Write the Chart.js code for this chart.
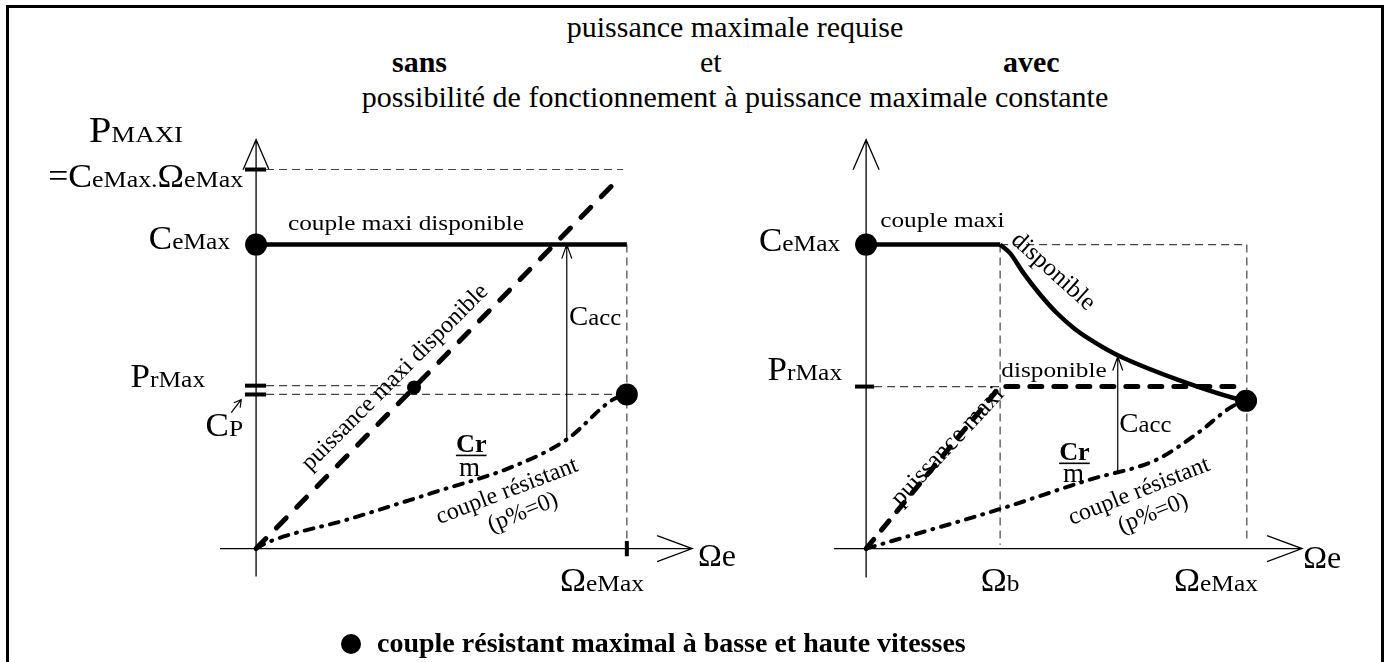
<!DOCTYPE html>
<html lang="fr">
<head>
<meta charset="utf-8">
<title>Puissance maximale requise</title>
<script src="https://cdn.jsdelivr.net/npm/chart.js@4.4.1/dist/chart.umd.min.js"></script>
<style>
  html, body { margin: 0; padding: 0; background: #fff; }
  body { width: 1390px; height: 662px; position: relative; overflow: hidden;
         font-family: "Liberation Serif", "Times New Roman", serif; color: #000; }
  .cadre { position: absolute; left: 6px; top: 5px; width: 1372px; height: 700px;
           border: 3px solid #000; border-bottom: none; }
  canvas { position: absolute; left: 0; top: 0; }
  .ligne { position: absolute; font-size: 30px; line-height: 30px; white-space: nowrap; }
  .centre { left: 0; width: 1470px; text-align: center; }
  .gras { font-weight: bold; }
  .legende { position: absolute; left: 377px; top: 629px; font-size: 28px; line-height: 28px;
             font-weight: bold; white-space: nowrap; }
  .pastille { position: absolute; left: 341px; top: 634px; width: 20px; height: 20px;
              border-radius: 50%; background: #000; }
</style>
</head>
<body>
<div class="cadre"></div>
<div class="ligne centre" style="top:12px">puissance maximale requise</div>
<div class="ligne gras" style="top:47px; left:392px">sans</div>
<div class="ligne" style="top:47px; left:700px">et</div>
<div class="ligne gras" style="top:47px; left:1003px">avec</div>
<div class="ligne centre" style="top:82px">possibilité de fonctionnement à puissance maximale constante</div>
<canvas id="gauche" width="1390" height="662"></canvas>
<canvas id="droite" width="1390" height="662"></canvas>
<div class="pastille"></div>
<div class="legende">couple résistant maximal à basse et haute vitesses</div>
<script>
// unités : Omega_eMax = 10, C_eMax = 10

// graphe de gauche (sans puissance constante)
const gOmegaMax = 10;
const gCoupleMax = 10;
const gPMaxi = 12.47;
const gPrMax = 5.36;
const gCp = 5.07;
const gCoupleMaxi = [[0, 10], [10, 10]];
const gPuissance = [[0, 0], [9.81, 12.2]];
const gResistant = [[0, 0], [0.3, 0.2], [2.45, 0.95], [4.77, 1.84], [6.93, 2.70], [8.38, 3.59], [9.62, 4.90], [10, 5.07]];
const gPointsMax = [[0, 10], [10, 5.07]];
const gPointPuissance = [[4.26, 5.3]];
const gCacc = [8.38, 3.59, 10];   // x, bas, haut

// graphe de droite (avec puissance constante)
const dOmegaB = 3.52;
const dOmegaMax = 10;
const dPrMax = 5.33;
const dCoupleMaxi = [[0, 10], [3.52, 10]];
const dHyperbole = [[3.52, 10], [3.78, 9.72], [4.13, 9.07], [4.57, 8.36], [5.01, 7.75], [5.45, 7.26],
                    [5.88, 6.88], [6.32, 6.55], [6.76, 6.27], [8.18, 5.56], [9.82, 4.90], [9.98, 4.86]];
const dPuissance = [[0, 0], [3.52, 5.33], [9.8, 5.33]];
const dResistant = [[0, 0], [3.46, 1.28], [5.88, 2.27], [7.64, 2.93], [8.73, 3.82], [9.61, 4.67], [9.98, 4.86]];
const dPointsMax = [[0, 10], [9.98, 4.86]];
const dCacc = [6.61, 2.53, 6.32];

const pts = a => a.map(([x, y]) => ({ x, y }));
const fmt = (taille, gras) => (gras ? 'bold ' : '') + taille + 'px "Liberation Serif", "Times New Roman", serif';

function texteRiche(ctx, x, y, morceaux, align, sx) {
  sx = sx || 1.06;
  let w = 0;
  for (const m of morceaux) { ctx.font = fmt(m[1], m[2]); w += ctx.measureText(m[0]).width; }
  let x0 = x;
  if (align === 'right') x0 = x - w * sx;
  else if (align === 'center') x0 = x - w * sx / 2;
  ctx.save();
  ctx.translate(x0, y);
  ctx.scale(sx, 1);
  ctx.fillStyle = '#000';
  ctx.textAlign = 'left';
  ctx.textBaseline = 'alphabetic';
  let cx = 0;
  for (const m of morceaux) {
    ctx.font = fmt(m[1], m[2]);
    ctx.fillText(m[0], cx, 0);
    const mw = ctx.measureText(m[0]).width;
    if (m[3]) ctx.fillRect(cx, 3, mw, 1.6);   // souligné
    cx += mw;
  }
  ctx.restore();
}

function texteIncline(ctx, x, y, angle, texte, taille) {
  ctx.save();
  ctx.translate(x, y);
  ctx.rotate(angle * Math.PI / 180);
  ctx.font = fmt(taille);
  ctx.fillStyle = '#000';
  ctx.textAlign = 'center';
  ctx.textBaseline = 'middle';
  ctx.fillText(texte, 0, 0);
  ctx.restore();
}

function fleche(ctx, x1, y1, x2, y2, long, larg) {
  const a = Math.atan2(y2 - y1, x2 - x1);
  const bx = x2 - long * Math.cos(a), by = y2 - long * Math.sin(a);
  const nx = -Math.sin(a) * larg, ny = Math.cos(a) * larg;
  ctx.beginPath();
  ctx.moveTo(x1, y1); ctx.lineTo(x2, y2);
  ctx.moveTo(bx + nx, by + ny); ctx.lineTo(x2, y2); ctx.lineTo(bx - nx, by - ny);
  ctx.stroke();
}

// plugin : axes fléchés, flèches Cacc et textes
function decor(cfg) {
  return {
    id: 'decor',
    beforeDatasetsDraw(chart) {
      const { ctx, scales: { x, y } } = chart;
      ctx.save();
      ctx.strokeStyle = '#000';
      ctx.lineWidth = 1.3;
      fleche(ctx, x.getPixelForValue(0), y.getPixelForValue(cfg.axeY[0]),
                  x.getPixelForValue(0), y.getPixelForValue(cfg.axeY[1]), 30, 13);
      fleche(ctx, x.getPixelForValue(cfg.axeX[0]), y.getPixelForValue(0),
                  x.getPixelForValue(cfg.axeX[1]), y.getPixelForValue(0), 35, 13);
      ctx.restore();
    },
    afterDatasetsDraw(chart) {
      const { ctx, scales: { x, y } } = chart;
      ctx.save();
      ctx.strokeStyle = '#000';
      ctx.lineWidth = 1.2;
      const [cx, bas, haut] = cfg.cacc;
      fleche(ctx, x.getPixelForValue(cx), y.getPixelForValue(bas),
                  x.getPixelForValue(cx), y.getPixelForValue(haut), 14, 5);
      (cfg.petitesFleches || []).forEach(f => {
        fleche(ctx, x.getPixelForValue(f[0]), y.getPixelForValue(f[1]),
                    x.getPixelForValue(f[2]), y.getPixelForValue(f[3]), 7, 4);
      });
      ctx.restore();
      cfg.etiquettes.forEach(e => texteRiche(ctx, x.getPixelForValue(e.x), y.getPixelForValue(e.y), e.m, e.align, e.sx));
      cfg.inclines.forEach(e => texteIncline(ctx, x.getPixelForValue(e.x), y.getPixelForValue(e.y), e.a, e.t, e.taille));
    }
  };
}

const plein  = { borderWidth: 4.5, order: 1 };
const tirets = { borderWidth: 5, borderDash: [14, 15], borderCapStyle: 'round', order: 1 };
const tirets2 = { borderWidth: 5, borderDash: [12, 12], borderCapStyle: 'round', order: 1 };
const mixte  = { borderWidth: 4, borderDash: [9, 8, 1, 8], borderCapStyle: 'round', order: 1, cubicInterpolationMode: 'monotone' };
const fin    = { borderWidth: 1.2, borderDash: [8, 5], borderColor: '#444', order: 2 };
const courbe = { borderWidth: 4.5, order: 1, cubicInterpolationMode: 'monotone' };

function trait(data, style) {
  return Object.assign({ data: pts(data), showLine: true, pointRadius: 0, borderColor: '#000', fill: false, clip: false }, style);
}
function points(data, rayon) {
  return { data: pts(data), showLine: false, pointRadius: rayon, pointBackgroundColor: '#000',
           pointBorderWidth: 0, order: 0, clip: false };
}

function options(padding, xmin, xmax) {
  return {
    responsive: false,
    animation: false,
    events: [],
    layout: { padding },
    scales: {
      x: { type: 'linear', min: xmin, max: xmax, display: false },
      y: { type: 'linear', min: -1, max: 14, display: false }
    },
    plugins: { legend: { display: false }, tooltip: { enabled: false } }
  };
}

new Chart(document.getElementById('gauche'), {
  type: 'scatter',
  data: {
    datasets: [
      points(gPointsMax, 11),
      points(gPointPuissance, 7),
      trait(gCoupleMaxi, plein),
      trait(gPuissance, tirets),
      trait(gResistant, mixte),
      trait([[-0.3, gPMaxi], [0.27, gPMaxi]], { borderWidth: 4, order: 1 }),
      trait([[-0.3, gPrMax], [0.27, gPrMax]], { borderWidth: 4, order: 1 }),
      trait([[-0.3, gCp], [0.27, gCp]], { borderWidth: 4, order: 1 }),
      trait([[gOmegaMax, 0.25], [gOmegaMax, -0.25]], { borderWidth: 4, order: 1 }),
      trait([[0.27, gPMaxi], [9.9, gPMaxi]], fin),
      trait([[0.27, gPrMax], [3.9, gPrMax]], fin),
      trait([[0.27, gCp], [9.95, gCp]], fin),
      trait([[gOmegaMax, gCoupleMax], [gOmegaMax, 0.3]], fin)
    ]
  },
  options: options({ left: 219, right: 689, top: 123, bottom: 83 }, -1, 12),
  plugins: [decor({
    axeY: [-0.92, 13.45],
    axeX: [-0.97, 11.76],
    cacc: gCacc,
    petitesFleches: [[-0.67, 4.47, -0.40, 4.9]],
    etiquettes: [
      { x: -1.97, y: 13.36, align: 'right', m: [['P', 36], ['MAXI', 24]], sx: 1.12 },
      { x: -0.35, y: 11.88, align: 'right', m: [['=C', 33], ['eMax.', 24], ['Ω', 33], ['eMax', 24]], sx: 1.08 },
      { x: -0.70, y: 9.84, align: 'right', m: [['C', 33], ['eMax', 24]] },
      { x: -1.375, y: 5.33, align: 'right', m: [['P', 33], ['rMax', 24]] },
      { x: -0.35, y: 3.72, align: 'right', m: [['C', 33], ['P', 24]] },
      { x: 9.33, y: -1.38, align: 'center', m: [['Ω', 33], ['eMax', 24]] },
      { x: 11.92, y: -0.56, align: 'left', m: [['Ωe', 32]], sx: 1.0 },
      { x: 0.86, y: 10.49, align: 'left', m: [['couple maxi disponible', 22]], sx: 1.15 },
      { x: 8.44, y: 7.37, align: 'left', m: [['C', 28], ['acc', 24]], sx: 1.03 },
      { x: 5.39, y: 3.19, align: 'left', m: [['Cr', 25, true, true]], sx: 1.05 },
      { x: 5.47, y: 2.40, align: 'left', m: [['m', 27]], sx: 1.0 }
    ],
    inclines: [
      { x: 3.75, y: 5.63, a: -45, t: 'puissance maxi disponible', taille: 24 },
      { x: 6.77, y: 1.88, a: -21, t: 'couple résistant', taille: 24 },
      { x: 7.20, y: 1.18, a: -22, t: '(p%=0)', taille: 24 }
    ]
  })]
});

new Chart(document.getElementById('droite'), {
  type: 'scatter',
  data: {
    datasets: [
      points(dPointsMax, 11),
      trait(dCoupleMaxi, plein),
      trait(dHyperbole, courbe),
      trait(dPuissance, tirets2),
      trait(dResistant, mixte),
      trait([[-0.29, dPrMax], [0.21, dPrMax]], { borderWidth: 4, order: 1 }),
      trait([[0.21, dPrMax], [dOmegaB, dPrMax]], fin),
      trait([[dOmegaB, 10], [dOmegaMax, 10]], fin),
      trait([[dOmegaB, 10], [dOmegaB, 0.13]], fin),
      trait([[dOmegaMax, 10], [dOmegaMax, 0.2]], fin)
    ]
  },
  options: options({ left: 809, right: 48, top: 123, bottom: 83 }, -1.5, 12.5),
  plugins: [decor({
    axeY: [-0.95, 13.45],
    axeX: [-0.84, 11.45],
    cacc: dCacc,
    etiquettes: [
      { x: -0.68, y: 9.80, align: 'right', m: [['C', 33], ['eMax', 24]] },
      { x: -0.63, y: 5.56, align: 'right', m: [['P', 33], ['rMax', 24]] },
      { x: 0.37, y: 10.59, align: 'left', m: [['couple maxi', 22]], sx: 1.15 },
      { x: 3.55, y: 5.63, align: 'left', m: [['disponible', 22]], sx: 1.15 },
      { x: 6.65, y: 3.85, align: 'left', m: [['C', 28], ['acc', 24]], sx: 1.03 },
      { x: 5.07, y: 2.93, align: 'left', m: [['Cr', 25, true, true]], sx: 1.05 },
      { x: 5.17, y: 2.20, align: 'left', m: [['m', 27]], sx: 1.0 },
      { x: 3.52, y: -1.41, align: 'center', m: [['Ω', 33], ['b', 24]] },
      { x: 9.19, y: -1.38, align: 'center', m: [['Ω', 33], ['eMax', 24]] },
      { x: 11.48, y: -0.63, align: 'left', m: [['Ωe', 32]], sx: 1.0 }
    ],
    inclines: [
      { x: 2.15, y: 3.36, a: -47, t: 'puissance maxi', taille: 25 },
      { x: 4.91, y: 9.11, a: 42, t: 'disponible', taille: 25 },
      { x: 7.17, y: 1.88, a: -21.6, t: 'couple résistant', taille: 24 },
      { x: 7.54, y: 1.15, a: -22, t: '(p%=0)', taille: 24 }
    ]
  })]
});
</script>
</body>
</html>
